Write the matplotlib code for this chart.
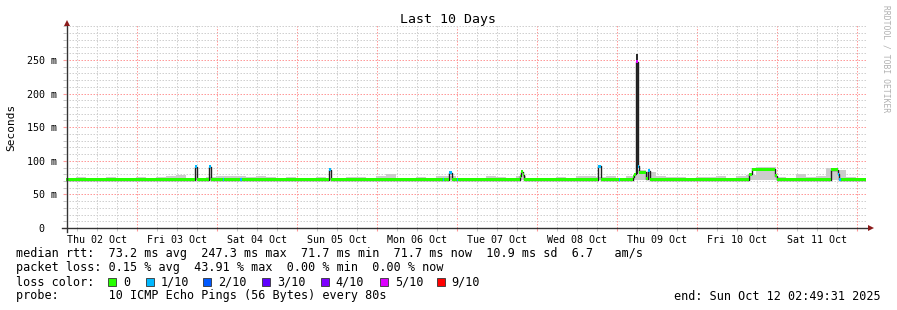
import datetime as dt
import numpy as np
import matplotlib
matplotlib.use("Agg")
import matplotlib.pyplot as plt
import matplotlib.dates as mdates
from matplotlib.lines import Line2D
from matplotlib.patches import Rectangle

W, H = 897, 310
MONO = "DejaVu Sans Mono"

end_time = dt.datetime(2025, 10, 12, 2, 49, 31)
start_time = end_time - dt.timedelta(days=10)
span_hours = 240

# median rtt as steps: start hour of each step, value (ms), loss (x/10)
med_h = [0.0, 38.8, 39.4, 43.0, 43.6, 47.0, 47.4, 52.3, 52.7, 78.8, 79.4,
         113.1, 113.4, 115.0, 115.8, 117.2, 117.5, 136.2, 136.5, 137.1, 137.5,
         159.6, 160.4, 166.0, 166.3, 170.0, 170.4, 171.0, 171.5, 172.0, 174.0,
         174.7, 175.2, 205.0, 205.7, 212.7, 213.2, 229.6, 231.5, 232.0, 232.4]
med_ms = [72, 91, 72, 91, 72, 72, 72, 72, 72, 87, 72,
          72, 72, 82, 72, 72, 72, 77, 84, 79, 72,
          92, 72, 72, 72, 76, 80, 247.3, 92, 83, 73,
          85, 72, 80, 87.5, 78, 72, 87, 80, 72, 72]
med_loss = [0, 1, 0, 1, 0, 1, 0, 1, 0, 1, 0,
            1, 0, 1, 0, 1, 0, 0, 0, 0, 0,
            1, 0, 1, 0, 0, 0, 5, 1, 0, 0,
            1, 0, 0, 0, 0, 0, 0, 1, 1, 0]

# smoke top (ms), one value per 3 hour bin
smoke_top = [74, 76, 74, 75, 76, 75, 74, 76, 75, 76,
             77, 79, 75, 74, 76, 77, 78, 77, 76, 77,
             76, 75, 76, 75, 74, 76, 74, 75, 76, 76,
             74, 78, 80, 74, 75, 76, 74, 77, 78, 74,
             75, 75, 77, 76, 75, 78, 74, 75, 74, 76,
             75, 78, 77, 76, 77, 75, 78, 86, 84, 77,
             76, 76, 74, 76, 76, 77, 75, 77, 79, 91,
             91, 76, 75, 80, 76, 77, 89, 86, 76, 75]
# dark smoke around the big spike
dark_h = [171.0, 171.5]
dark_lo = [80, 80]
dark_ms = [259, 259]

loss_colors = {0: "#26ff00", 1: "#00b8ff", 2: "#0059ff", 3: "#5e00ff",
               4: "#7e00ff", 5: "#dd00ff", 9: "#ff0000"}
legend_labels = ["0", "1/10", "2/10", "3/10", "4/10", "5/10", "9/10"]
legend_keys = [0, 1, 2, 3, 4, 5, 9]

y_ticks = [0, 50, 100, 150, 200, 250]
y_ticklabels = ["0  ", "50 m", "100 m", "150 m", "200 m", "250 m"]


def fx(px):
    return px / W


def fy(py):
    return 1 - py / H


t0 = mdates.date2num(start_time)


def tnum(hours):
    return t0 + np.asarray(hours, dtype=float) / 24.0


fig = plt.figure(figsize=(W / 100, H / 100), dpi=100)
fig.patch.set_facecolor("white")
ax = fig.add_axes([fx(66.1), fy(228), 800 / W, 203 / H])
ax.set_xlim(tnum(0), tnum(span_hours))
ax.set_ylim(0, 302)

# smoke
smoke_h = np.arange(len(smoke_top) + 1) * 3.0
med_edges = np.append(med_h, span_hours)
for i, top in enumerate(smoke_top):
    a, b = smoke_h[i], smoke_h[i + 1]
    ax.fill_between(tnum([a, b]), 71, top, color="#cccccc", lw=0, zorder=2)
ax.fill_between(tnum(dark_h), dark_lo, dark_ms, color="#2a2a2a", lw=0, zorder=3)

# median line
ax.step(tnum(med_edges), list(med_ms) + [med_ms[-1]], where="post",
        color="#202020", lw=1, zorder=3)

# loss coloured band
half = 2.3
for i in range(len(med_ms)):
    a, b = med_edges[i], med_edges[i + 1]
    m = med_ms[i]
    ax.fill_between(tnum([a, b]), m - half, m + half,
                    color=loss_colors[med_loss[i]], lw=0, zorder=4)

# grid
ax.xaxis.set_major_locator(mdates.DayLocator())
ax.xaxis.set_minor_locator(mdates.HourLocator(byhour=[6, 12, 18]))
ax.xaxis.set_major_formatter(plt.NullFormatter())


def day_label(x, pos):
    d = mdates.num2date(x)
    if d.hour == 12:
        return d.strftime("%a %d %b")
    return ""


ax.xaxis.set_minor_formatter(plt.FuncFormatter(day_label))
ax.set_yticks(y_ticks)
ax.set_yticklabels(y_ticklabels)
ax.yaxis.set_minor_locator(plt.MultipleLocator(10))

ax.grid(which="minor", color="#d0d0d0", lw=0.72, ls=(0, (1.5, 1.5)), zorder=0)
ax.grid(which="major", color="#ff9a9a", lw=0.72, ls=(0, (1.5, 1.5)), zorder=1)
ax.set_axisbelow(True)

ax.tick_params(which="both", labelsize=7.2, labelfontfamily=MONO,
               colors="#000000")
ax.tick_params(axis="x", which="major", length=2, color="#ff9a9a")
ax.tick_params(axis="x", which="minor", length=2, color="#bbbbbb", pad=3)
ax.tick_params(axis="y", which="major", length=2, color="#ff9a9a", pad=4.5)
ax.tick_params(axis="y", which="minor", length=2, color="#bbbbbb")

for s in ax.spines.values():
    s.set_visible(False)

# axes lines and arrows
axis_col = "#333333"
fig.add_artist(Line2D([fx(62), fx(869)], [fy(228), fy(228)], color=axis_col, lw=1))
fig.add_artist(Line2D([fx(66.6), fx(66.6)], [fy(232), fy(24)], color=axis_col, lw=1))
fig.add_artist(Line2D([fx(871)], [fy(228)], marker=">", color="#8b1a1a",
                      ms=4, mew=0, ls="none"))
fig.add_artist(Line2D([fx(66.6)], [fy(22.5)], marker="^", color="#8b1a1a",
                      ms=4, mew=0, ls="none"))

# titles
fig.text(fx(448), fy(19), "Last 10 Days", ha="center", va="center",
         family=MONO, fontsize=9.5)
fig.text(fx(11), fy(127), "Seconds", ha="center", va="center",
         rotation=90, family=MONO, fontsize=8)
fig.text(fx(886), fy(59), "RRDTOOL / TOBI OETIKER", ha="center", va="center",
         rotation=270, family=MONO, fontsize=5.8, color="#b0b0b0")

# legend text
fs = 8.5
fig.text(fx(16), fy(254), "median rtt:  73.2 ms avg  247.3 ms max  71.7 ms min  "
         "71.7 ms now  10.9 ms sd  6.7   am/s", ha="left", va="center",
         family=MONO, fontsize=fs)
fig.text(fx(16), fy(268), "packet loss: 0.15 % avg  43.91 % max  0.00 % min  "
         "0.00 % now", ha="left", va="center", family=MONO, fontsize=fs)
fig.text(fx(16), fy(282), "loss color:", ha="left", va="center",
         family=MONO, fontsize=fs)
sq_x = [108, 145.7, 203, 261.7, 320.7, 380, 436.7]
for k, lab, x in zip(legend_keys, legend_labels, sq_x):
    fig.add_artist(Rectangle((fx(x), fy(286)), 8 / W, 8 / H,
                             facecolor=loss_colors[k], edgecolor="#333333",
                             lw=0.6, transform=fig.transFigure))
    fig.text(fx(x + 15), fy(282), lab, ha="left", va="center",
             family=MONO, fontsize=fs)
fig.text(fx(16), fy(296), "probe:       10 ICMP Echo Pings (56 Bytes) every 80s",
         ha="left", va="center", family=MONO, fontsize=fs)
fig.text(fx(881), fy(296), "end: " + end_time.strftime("%a %b %d %H:%M:%S %Y"),
         ha="right", va="center", family=MONO, fontsize=fs)

fig.savefig("out.png", dpi=100, facecolor="white")
